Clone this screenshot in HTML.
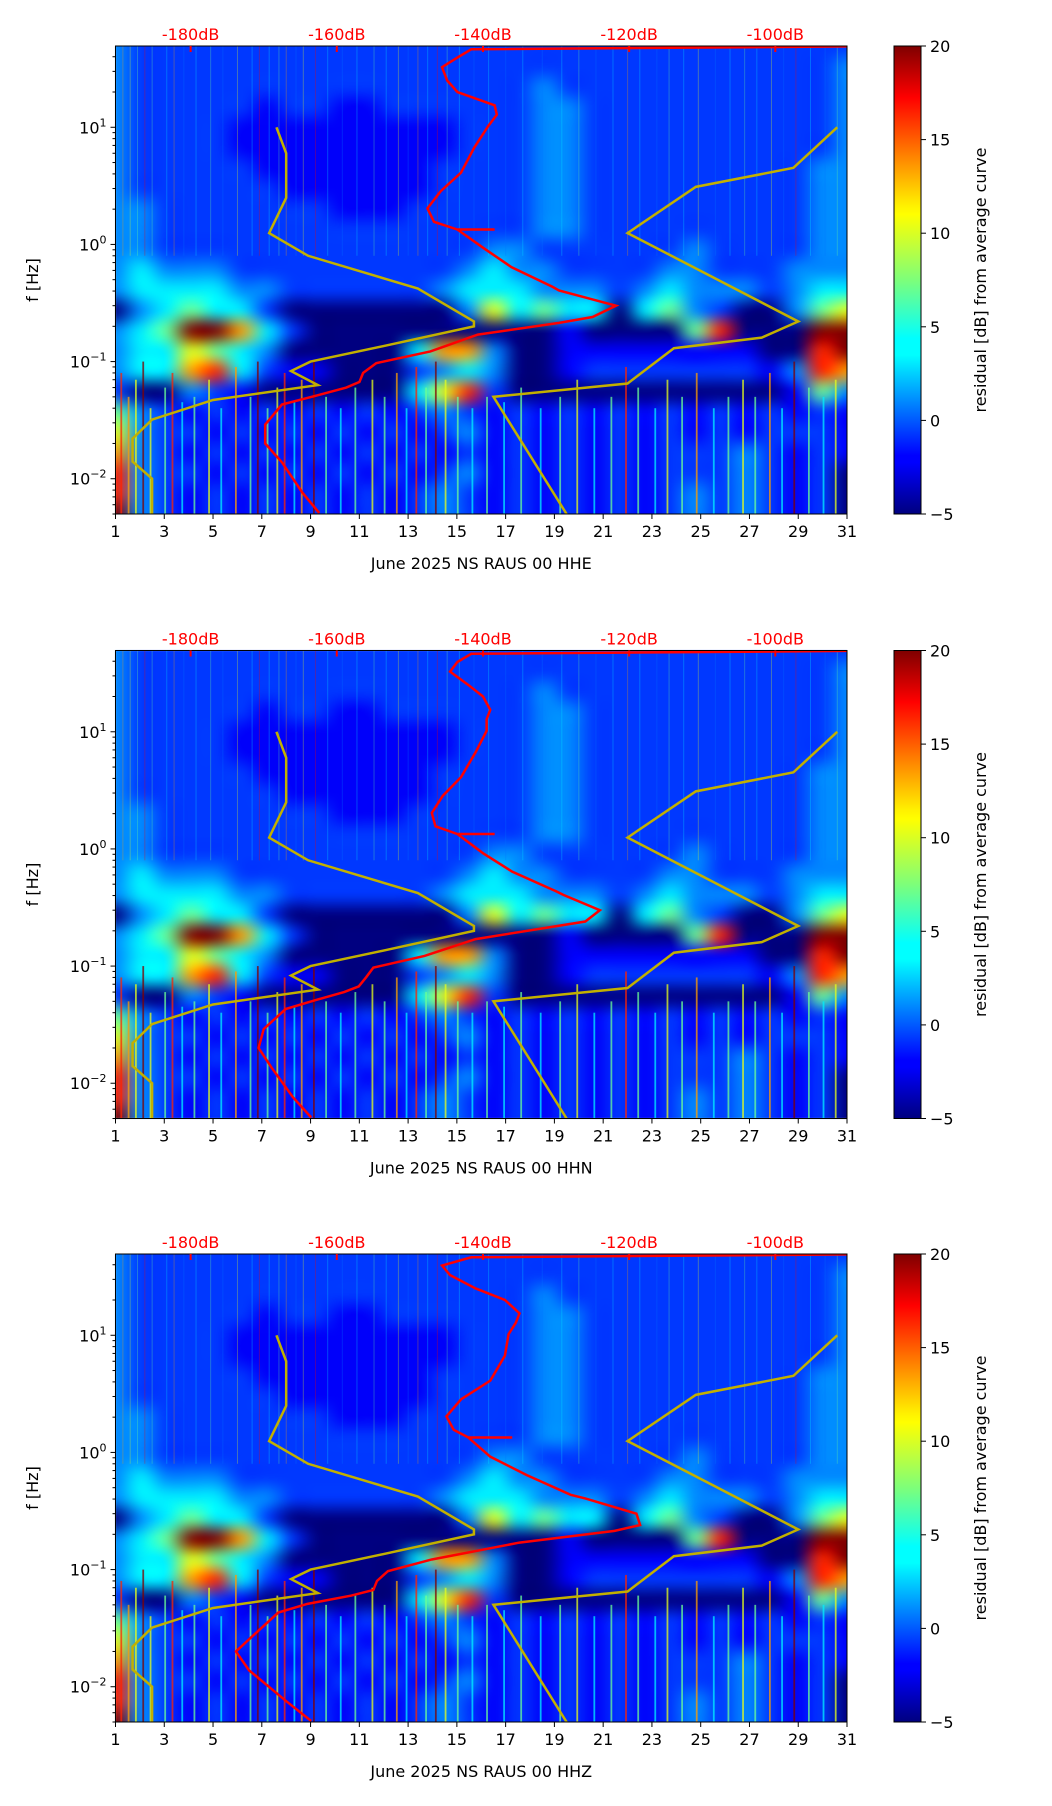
<!DOCTYPE html>
<html><head><meta charset="utf-8"><style>
body{margin:0;background:#fff;}
#wrap{position:relative;width:1052px;height:1806px;}
#cv,#fig{position:absolute;left:0;top:0;}
svg text{font-family:"DejaVu Sans","Liberation Sans",sans-serif;}
</style></head><body>
<div id="wrap">
<canvas id="cv" width="1052" height="1806"></canvas>
<svg id="fig" width="1052" height="1806" viewBox="0 0 1052 1806" xmlns="http://www.w3.org/2000/svg">
<defs>
<linearGradient id="jet" x1="0" y1="1" x2="0" y2="0">
<stop offset="0" stop-color="#00007f"/><stop offset="0.11" stop-color="#0000ff"/><stop offset="0.125" stop-color="#0000ff"/>
<stop offset="0.34" stop-color="#00ffff"/><stop offset="0.375" stop-color="#00ffff"/><stop offset="0.5" stop-color="#7dff7a"/>
<stop offset="0.64" stop-color="#ffff00"/><stop offset="0.66" stop-color="#fff000"/><stop offset="0.89" stop-color="#ff0000"/><stop offset="1" stop-color="#7f0000"/>
</linearGradient>
</defs>
</svg>
</div>
<script>
// ---- data ----
const days = [1,3,5,7,9,11,13,15,17,19,21,23,25,27,29,31];
const dbTicks = [-180,-160,-140,-120,-100];
const cbTicks = [20,15,10,5,0,-5];
const levelValues = [-5,-2,-0.5,1.5,4,7,10,13,16,20];
const grid = [
"322222222222222222222222222222",
"322222222222222222222222222223",
"322222222222222223222222222223",
"322222122112222223322222222223",
"322221111111112223322222222223",
"322221111111112223322222222223",
"322222111111122223322222222233",
"322222211111122223322222222233",
"332222222111222223322222222233",
"332222222222222223322222222233",
"332222222222222332222223222233",
"343332222222223433222233222333",
"344443322222234443332343332344",
"034544200000003645440453200356",
"345997420000000000100005800099",
"344654300000477300111111110089",
"344784211000234300122222221387",
"200321000000468200000000000153",
"532121212121232121212121212121",
"632212121212123121212121212221",
"732121212121212121212122232121",
"832212121212123121212122232120",
"832121212121232121212123232120",
"932121212121232121212123232120"];
const streakDays = [1.2,1.5,1.8,2.1,2.4,3.0,3.3,3.7,4.2,4.8,5.3,5.9,6.5,6.8,7.2,7.6,7.9,8.3,8.6,9.1,9.6,10.2,10.8,11.5,12.0,12.5,12.9,13.3,13.7,14.1,14.5,15.0,15.6,16.2,16.9,17.6,18.4,19.2,19.9,20.6,21.3,21.9,22.4,23.1,23.6,24.2,24.8,25.5,26.1,26.7,27.2,27.8,28.3,28.8,29.4,30.0,30.5];
const streakLevels = [8,7,6,9,6,5,8,4,5,6,4,7,5,9,5,6,8,4,7,9,5,4,5,6,5,7,4,8,5,9,6,5,4,5,4,5,4,5,6,4,5,8,5,4,6,5,7,4,5,6,5,7,4,9,5,4,6];
const streakTopF = [0.08,0.05,0.07,0.1,0.04,0.06,0.08,0.045,0.05,0.07,0.04,0.09,0.05,0.1,0.04,0.06,0.08,0.045,0.07,0.1,0.05,0.04,0.06,0.07,0.05,0.08,0.04,0.09,0.06,0.1,0.07,0.05,0.04,0.05,0.045,0.06,0.04,0.05,0.07,0.04,0.05,0.09,0.06,0.04,0.07,0.05,0.08,0.04,0.05,0.07,0.05,0.08,0.04,0.1,0.06,0.05,0.07];
const yelLeftDay = [7.6,8,8,7.3,8.9,13.4,15.7,15.7,12.3,9,8.2,9.3,5,2.5,1.7,1.7,2.5,2.5];
const yelLeftF = [10,6,2.5,1.25,0.8,0.42,0.22,0.2,0.14,0.1,0.083,0.063,0.047,0.032,0.022,0.014,0.01,0.005];
const yelRightDay = [30.6,28.8,24.8,22,29,27.5,23.9,22,16.5,19.5];
const yelRightF = [10,4.5,3.1,1.25,0.22,0.16,0.13,0.065,0.05,0.005];
const redF = [49,46.3,39.4,32.6,25.1,20,15.4,12.8,10.2,6.7,4.1,2.84,2.03,1.56,1.34,1.34,1.34,0.92,0.64,0.435,0.405,0.30,0.24,0.214,0.17,0.122,0.097,0.080,0.067,0.060,0.051,0.043,0.029,0.020,0.0138,0.0076,0.0051];
const redDbE = [-90,-141.6,-143.5,-145.6,-144.9,-143.5,-138.4,-138.1,-139.3,-141.2,-143.0,-145.8,-147.6,-146.7,-143.5,-138.4,-143.5,-139.8,-136.1,-130.5,-129.6,-121.8,-125,-129.6,-140.7,-147.2,-154.6,-156.4,-156.9,-158.7,-162.9,-167.5,-169.8,-169.8,-167.5,-164.7,-162.4];
const redDbN = [-90,-141.6,-143.5,-144.5,-142,-140,-139,-139.5,-139.5,-141,-143,-145.5,-147,-146.5,-143.5,-138.4,-143.5,-140,-136,-130,-129,-124,-126,-131,-141,-148,-155,-156,-157,-159,-163,-167,-170,-170.7,-169,-166,-163.5];
const redDbZ = [-90,-141.6,-145.6,-144.5,-141,-137,-135,-135.5,-136.5,-137,-139,-143,-145,-144,-142,-136,-142,-139,-134,-128,-126,-119,-118.5,-122,-135,-147,-153,-154.5,-155,-158,-164,-168,-171,-173.8,-172,-167,-163.5];
const panelLabels = ["June 2025 NS RAUS 00 HHE","June 2025 NS RAUS 00 HHN","June 2025 NS RAUS 00 HHZ"];

// ---- drawing ----
const NS="http://www.w3.org/2000/svg";
const fig=document.getElementById('fig');
const ctx=document.getElementById('cv').getContext('2d');
const AX=115.5, AW=731.5, AH=468, TOPS=[46,650.5,1254];
const CBX=894, CBW=27;
const LOGMAX=Math.log10(49.4), LOGMIN=Math.log10(0.005);
function jetRGB(v){let t=(v+5)/25;t=Math.max(0,Math.min(1,t));
 const r=Math.max(0,Math.min(1,1.5-Math.abs(4*t-3))),g=Math.max(0,Math.min(1,1.5-Math.abs(4*t-2))),b=Math.max(0,Math.min(1,1.5-Math.abs(4*t-1)));
 return [Math.round(r*255),Math.round(g*255),Math.round(b*255)];}
function jet(v){const c=jetRGB(v);return `rgb(${c[0]},${c[1]},${c[2]})`;}
function el(tag,attrs,parent){const e=document.createElementNS(NS,tag);for(const k in attrs)e.setAttribute(k,attrs[k]);(parent||fig).appendChild(e);return e;}
function txt(s,attrs,parent){const e=el('text',attrs,parent);e.textContent=s;return e;}

const cols=grid[0].length, rows=grid.length;
const small=document.createElement('canvas');small.width=cols;small.height=rows;
const sctx=small.getContext('2d');const img=sctx.createImageData(cols,rows);
grid.forEach((row,ri)=>{for(let c=0;c<cols;c++){const rgb=jetRGB(levelValues[+row[c]]);const k=(ri*cols+c)*4;
 img.data[k]=rgb[0];img.data[k+1]=rgb[1];img.data[k+2]=rgb[2];img.data[k+3]=255;}});
sctx.putImageData(img,0,0);
ctx.imageSmoothingEnabled=true;ctx.imageSmoothingQuality='high';

TOPS.forEach((top,pi)=>{
 const xs=d=>AX+(d-1)/30*AW;
 const ys=f=>top+(LOGMAX-Math.log10(f))/(LOGMAX-LOGMIN)*AH;
 const x180=AX+0.1027*AW, x100=AX+0.902*AW;
 const xdb=db=>x180+(db+180)*(x100-x180)/80;
 ctx.save();ctx.beginPath();ctx.rect(AX,top,AW,AH);ctx.clip();
 const cw=AW/cols, chh=AH/rows;
 ctx.drawImage(small,AX-cw/2,top-chh/2,AW+cw,AH+chh);
 ctx.restore();
 const g=el('g',{});
 
 
 const cid='clip'+pi;
 const cp=el('clipPath',{id:cid},g);el('rect',{x:AX,y:top,width:AW,height:AH},cp);
 const hm=el('g',{'clip-path':`url(#${cid})`},g);
 
 
 streakDays.forEach((d,i)=>{
  const v=levelValues[streakLevels[i]];
  const s=el('rect',{x:xs(d),y:ys(streakTopF[i]),width:1.8,height:ys(0.005)-ys(streakTopF[i]),fill:jet(v),opacity:0.75},hm);
  
  
  const s2=el('rect',{x:xs(d)+2,y:top,width:1,height:ys(0.8)-top,fill:jet(v-3),opacity:0.3},hm);
  
  
 });
 const yl=el('polyline',{points:yelLeftDay.map((d,i)=>xs(d)+','+ys(yelLeftF[i])).join(' '),fill:'none',stroke:'#c2b000',"stroke-width":2.5},hm);
 
 
 const yr=el('polyline',{points:yelRightDay.map((d,i)=>xs(d)+','+ys(yelRightF[i])).join(' '),fill:'none',stroke:'#c2b000',"stroke-width":2.5},hm);
 
 
 const rd=[redDbE,redDbN,redDbZ][pi];
 const rl=el('polyline',{points:rd.map((db,i)=>xdb(db)+','+ys(redF[i])).join(' '),fill:'none',stroke:'#ff0000',"stroke-width":2.5},hm);
 
 
 el('rect',{x:AX,y:top,width:AW,height:AH,fill:'none',stroke:'#000','stroke-width':1},g);
 dbTicks.forEach(db=>{
  el('line',{x1:xdb(db),x2:xdb(db),y1:top,y2:top+6,stroke:'#f00','stroke-width':2},g);
  const t=txt(db+'dB',{x:xdb(db),y:top-6,'text-anchor':'middle','font-size':16,fill:'#f00'},g);
  
  
 });
 days.forEach(d=>{
  el('line',{x1:xs(d),x2:xs(d),y1:top+AH,y2:top+AH+5,stroke:'#000'},g);
  const t=txt(String(d),{x:xs(d),y:top+AH+23,'text-anchor':'middle','font-size':16},g);
  
  
 });
 const xt=txt(panelLabels[pi],{x:AX+AW/2,y:top+AH+55,'text-anchor':'middle','font-size':16},g);
 
 
 for(let e=-3;e<=1;e++){for(let m=1;m<10;m++){const f=m*Math.pow(10,e);if(f<0.005||f>49.4)continue;
  el('line',{x1:AX,x2:AX-(m==1?5:3),y1:ys(f),y2:ys(f),stroke:'#000'},g);
  if(m==1){const t=el('text',{x:AX-9,y:ys(f)+6,'text-anchor':'end','font-size':16},g);
   
   
   t.innerHTML=`10<tspan dy="-7" font-size="11">${e<0?'−'+(-e):e}</tspan>`;}
 }}
 const yt=txt('f [Hz]',{x:0,y:0,'text-anchor':'middle','font-size':16,transform:`translate(38,${top+AH/2}) rotate(-90)`},g);
 
 
 const cb=el('rect',{x:CBX,y:top,width:CBW,height:AH,fill:'url(#jet)',stroke:'#000'},g);
 
 
 cbTicks.forEach(v=>{const y=top+(20-v)/25*AH;
  el('line',{x1:CBX+CBW,x2:CBX+CBW+5,y1:y,y2:y,stroke:'#000'},g);
  const t=txt(v<0?'−'+(-v):String(v),{x:CBX+CBW+9,y:y+6,'font-size':16},g);
  
  
 });
 const cl=txt('residual [dB] from average curve',{x:0,y:0,'text-anchor':'middle','font-size':16,transform:`translate(986,${top+AH/2}) rotate(-90)`},g);
 
 
});
</script>
</body></html>
